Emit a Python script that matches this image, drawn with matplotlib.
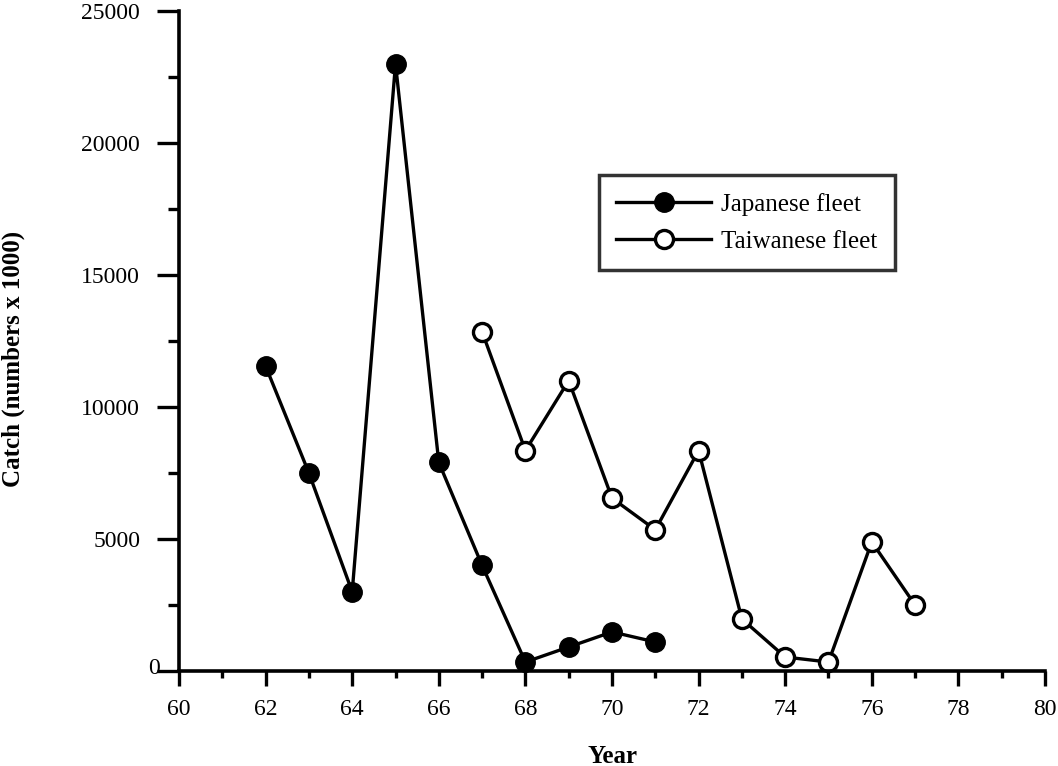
import matplotlib
matplotlib.use('Agg')
import matplotlib.pyplot as plt
from matplotlib.transforms import ScaledTranslation

# valeurs (captures en milliers d'individus)
years_japan = [62, 63, 64, 65, 66, 67, 68, 69, 70, 71]
catch_japan = [11550, 7500, 3000, 23000, 7900, 4000, 340, 910, 1480, 1100]

years_taiwan = [67, 68, 69, 70, 71, 72, 73, 74, 75, 76, 77]
catch_taiwan = [12850, 8350, 11000, 6550, 5350, 8350, 1970, 530, 340, 4890, 2500]

x_ticks = list(range(60, 81, 2))
y_ticks = [0, 5000, 10000, 15000, 20000, 25000]

plt.rcParams['font.family'] = ['Liberation Serif', 'DejaVu Serif']

fig = plt.figure(figsize=(10.58, 7.66), dpi=100)
ax = fig.add_axes([0.1692, 0.124, 0.8185, 0.8616])

ax.plot(years_japan, catch_japan, color='black', lw=2.4, marker='o', ms=14,
        mfc='black', mec='black', label='Japanese fleet', clip_on=False)
ax.plot(years_taiwan, catch_taiwan, color='black', lw=2.4, marker='o', ms=13,
        mfc='white', mec='black', mew=2.4, label='Taiwanese fleet', clip_on=False)

ax.set_xlim(60, 80)
ax.set_ylim(0, 25000)

for side in ('top', 'right'):
    ax.spines[side].set_visible(False)
for side in ('left', 'bottom'):
    ax.spines[side].set_linewidth(2.6)

ax.set_xticks(x_ticks)
ax.set_xticks(range(61, 80, 2), minor=True)
ax.set_yticks(y_ticks)
ax.set_yticks(range(2500, 25000, 5000), minor=True)
ax.tick_params(axis='x', which='major', direction='out', length=11, width=2.4, labelsize=17, pad=9)
ax.tick_params(axis='x', which='minor', direction='out', length=5, width=2.4)
ax.tick_params(axis='y', which='major', direction='out', length=16, width=2.4, labelsize=17, pad=12)
ax.tick_params(axis='y', which='minor', direction='out', length=8, width=2.4)

# le "0" est collé à l'axe dans l'original
lab0 = ax.get_yticklabels()[0]
lab0.set_transform(lab0.get_transform() + ScaledTranslation(0.2, 0.05, fig.dpi_scale_trans))

ax.set_xlabel('Year', fontsize=18, fontweight='bold', labelpad=18)
ax.set_ylabel('Catch (numbers x 1000)', fontsize=18, fontweight='bold')
ax.yaxis.set_label_coords(-0.178, 0.473)

leg = ax.legend(loc='upper left', bbox_to_anchor=(0.566, 0.7715), bbox_transform=fig.transFigure,
                fontsize=18, frameon=True, fancybox=False, edgecolor='black',
                handlelength=3.8, handletextpad=0.4,
                borderaxespad=0, borderpad=0.7, labelspacing=0.58)
leg.get_frame().set_linewidth(2.5)

fig.savefig('out.png', dpi=100, facecolor='white')
